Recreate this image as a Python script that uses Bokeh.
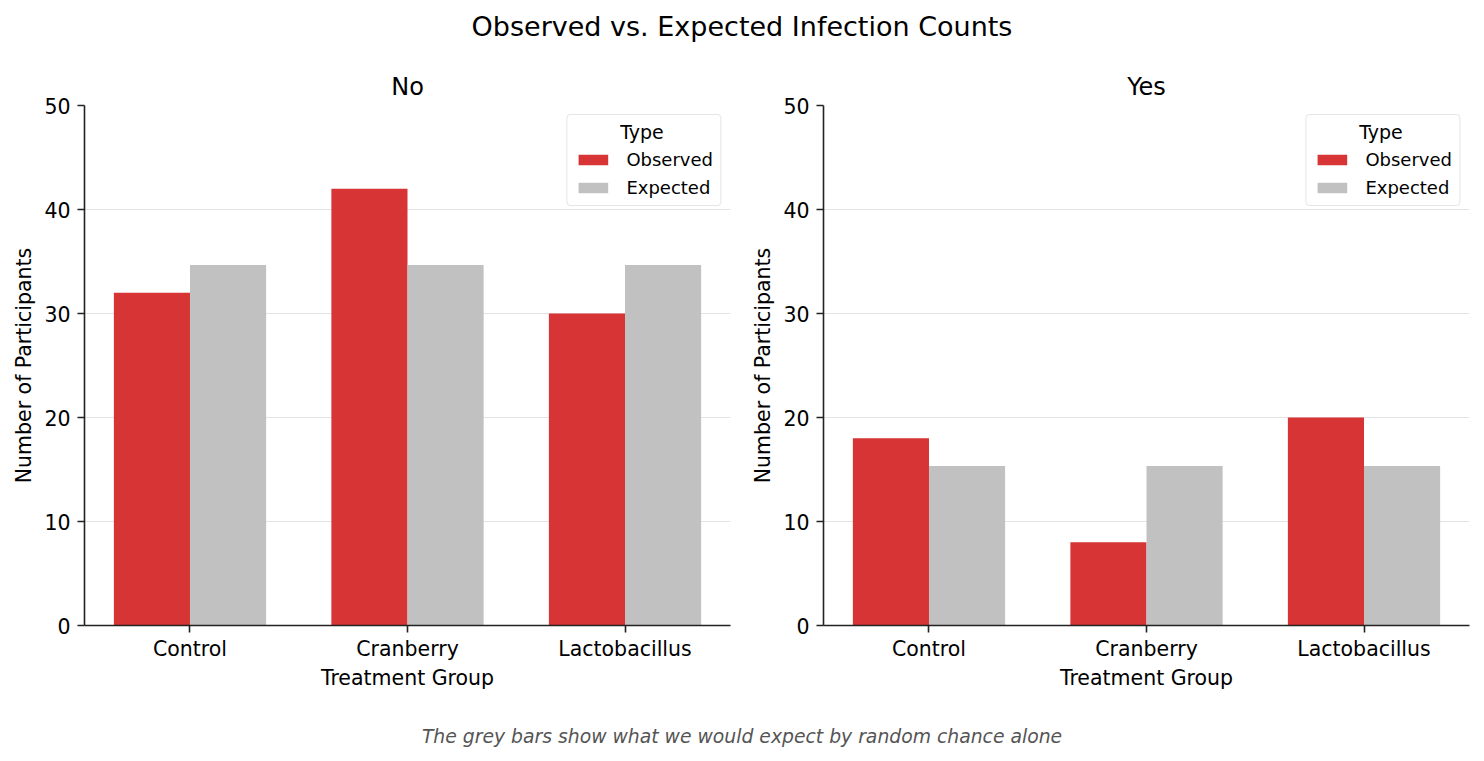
from bokeh.plotting import figure
from bokeh.models import ColumnDataSource, Div, Legend, LegendItem, FactorRange, Label
from bokeh.transform import dodge
from bokeh.layouts import column, row
from bokeh.embed import file_html
from bokeh.resources import INLINE

groups = ["Control", "Cranberry", "Lactobacillus"]
observed_no = [32, 42, 30]
expected_no = [34.67, 34.67, 34.67]
observed_yes = [18, 8, 20]
expected_yes = [15.33, 15.33, 15.33]
panel_titles = ["No", "Yes"]
y_ticks = [0, 10, 20, 30, 40, 50]

FONT = "DejaVu Sans"
RED = "#d73535"
GREY = "#c1c1c1"


def make_panel(title, obs, exp, left, right):
    src = ColumnDataSource(dict(group=groups, observed=obs, expected=exp))
    xr = FactorRange(*groups, range_padding=-0.015, range_padding_units="absolute")
    p = figure(x_range=xr, y_range=(0, 50), width=742, height=650,
               output_backend="svg", toolbar_location=None, title=title,
               min_border_left=left, min_border_right=right, min_border_top=45,
               min_border_bottom=85)
    p.title.align = "center"
    p.title.text_font = FONT
    p.title.text_font_size = "24px"
    p.title.text_font_style = "normal"
    p.title.text_color = "#000000"
    p.title.standoff = 10
    r1 = p.vbar(x=dodge("group", -0.175, range=p.x_range), top="observed", width=0.35,
                source=src, fill_color=RED, line_color=None)
    r2 = p.vbar(x=dodge("group", 0.175, range=p.x_range), top="expected", width=0.35,
                source=src, fill_color=GREY, line_color=None)
    p.outline_line_color = None
    p.xgrid.grid_line_color = None
    p.ygrid.grid_line_color = "#e3e3e3"
    p.ygrid.grid_line_width = 1
    p.yaxis.ticker = y_ticks
    for ax in (p.xaxis[0], p.yaxis[0]):
        ax.axis_line_color = "#222222"
        ax.axis_line_width = 1.6
        ax.major_tick_line_color = "#222222"
        ax.major_tick_line_width = 1.6
        ax.major_tick_out = 7
        ax.major_tick_in = 0
        ax.minor_tick_line_color = None
        ax.major_label_text_font = FONT
        ax.major_label_text_font_size = "20.5px"
        ax.major_label_text_color = "#000000"
        ax.axis_label_text_font = FONT
        ax.axis_label_text_font_size = "20.5px"
        ax.axis_label_text_font_style = "normal"
        ax.axis_label_text_color = "#000000"
    p.xaxis.axis_label = "Treatment Group"
    p.yaxis.axis_label = "Number of Participants"
    p.xaxis.axis_label_standoff = 2
    p.yaxis.axis_label_standoff = 5
    p.xaxis.major_label_standoff = 4
    p.yaxis.major_label_standoff = 7
    legend = Legend(items=[LegendItem(label="Observed", renderers=[r1]),
                           LegendItem(label="Expected", renderers=[r2])],
                    location="top_right", title="\u00a0")
    legend.title_text_font = FONT
    legend.title_text_font_size = "19px"
    legend.label_text_font = FONT
    legend.label_text_font_size = "18px"
    legend.label_text_color = "#000000"
    legend.glyph_width = 37
    legend.glyph_height = 13
    legend.label_standoff = 15
    legend.spacing = 7
    legend.padding = 7
    legend.margin = 9
    legend.border_line_color = "#cccccc"
    legend.border_line_width = 1.5
    legend.background_fill_alpha = 0
    if "border_radius" in Legend.properties():
        legend.border_radius = 4
    p.add_layout(legend)
    # centred legend title, as in the reference
    n = len(groups)
    p.add_layout(Label(x=n - 0.422, y=47.5, text="Type", text_align="center",
                       text_baseline="middle", text_font=FONT, text_font_size="19px",
                       text_color="#000000", level="overlay"))
    return p


p1 = make_panel(panel_titles[0], observed_no, expected_no, 84, 12)
p2 = make_panel(panel_titles[1], observed_yes, expected_yes, 81, 15)

title_div = Div(text="Observed vs. Expected Infection Counts", width=1484, height=60, margin=0,
                styles={"text-align": "center", "font-family": FONT, "font-size": "27px",
                        "line-height": "54px", "color": "#000000", "width": "1484px"})
note_div = Div(text="The grey bars show what we would expect by random chance alone", width=1484,
               height=51, margin=0,
               styles={"text-align": "center", "font-family": FONT, "font-size": "18.8px",
                       "font-style": "italic", "line-height": "54px", "color": "#555555",
                       "width": "1484px"})

layout = column(title_div, row(p1, p2, spacing=0), note_div, spacing=0)
open("out.html", "w").write(file_html(layout, INLINE))
